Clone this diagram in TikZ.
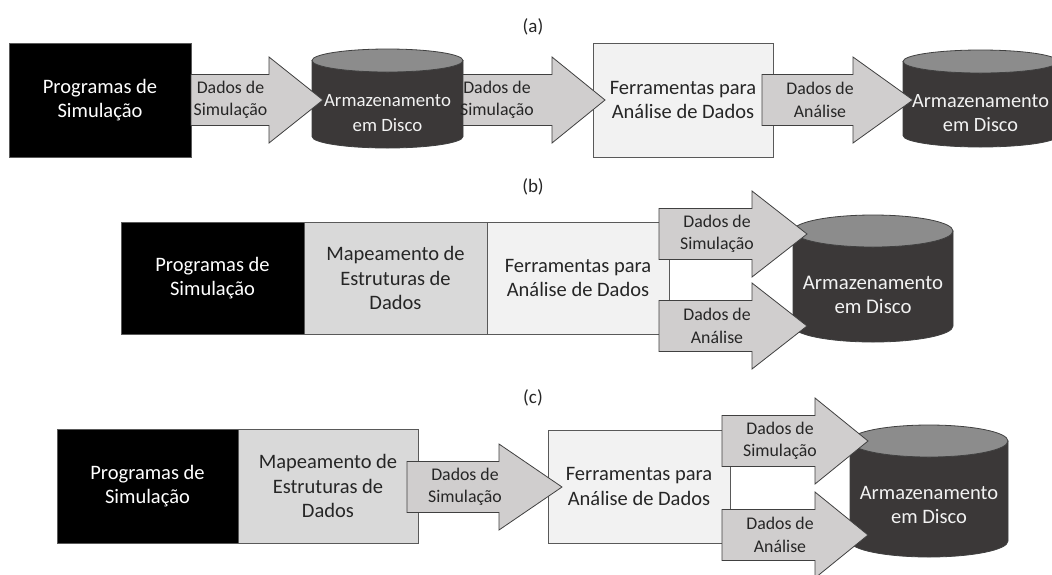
\documentclass[tikz,border=0pt]{standalone}
\usepackage{fontspec}
\setmainfont{Carlito}
\definecolor{arrowfill}{HTML}{D0CECE}
\definecolor{arrowedge}{HTML}{404040}
\definecolor{boxedge}{HTML}{595959}
\definecolor{mapfill}{HTML}{D9D9D9}
\definecolor{ferfill}{HTML}{F2F2F2}
\definecolor{cylbody}{HTML}{3B3838}
\definecolor{cyltop}{HTML}{8C8C8C}
\definecolor{txtdark}{HTML}{262626}
\definecolor{cyltxt}{HTML}{F2F2F2}
\tikzset{
  boxbase/.style={draw=boxedge, line width=0.9pt, inner sep=0pt, outer sep=0pt, align=center,
    font=\fontsize{20.5}{24.5}\selectfont},
  simbox/.style={boxbase, fill=black, text=white},
  mapbox/.style={boxbase, fill=mapfill, text=txtdark},
  ferbox/.style={boxbase, fill=ferfill, text=txtdark},
  arrowshape/.style={draw=arrowedge, fill=arrowfill, line width=0.8pt, line join=miter},
  arrowtext/.style={text=txtdark, align=center, inner sep=0pt, font=\fontsize{17.8}{22.5}\selectfont},
  cyltext/.style={text=cyltxt, align=center, inner sep=0pt},
  partlabel/.style={text=txtdark, inner sep=0pt, font=\fontsize{19}{22}\selectfont},
}
% block arrow: name, x1 (tail), xh (head base), xt (tip), yc, text x, text
\newcommand{\blockarrow}[7]{%
  \draw[arrowshape] (#2,#5-25.5) -- (#3,#5-25.5) -- (#3,#5-43) -- (#4,#5)
     -- (#3,#5+43) -- (#3,#5+25.5) -- (#2,#5+25.5) -- cycle;
  \node[arrowtext] (#1) at (#6,#5) {#7};
}
% cylinder: name, x1, x2, ytop, ybottom, ry, text y, font size, text
\newcommand{\diskcyl}[9]{%
  \pgfmathsetmacro{\cxc}{(#2+#3)/2}%
  \pgfmathsetmacro{\crx}{(#3-#2)/2}%
  \pgfmathsetmacro{\cyt}{#4+#6}%
  \pgfmathsetmacro{\cyb}{#5-#6}%
  \draw[fill=cylbody, draw=arrowedge, line width=0.8pt]
    (#2,\cyt) -- (#2,\cyb)
    .. controls (#2,\cyb+0.552*#6) and (\cxc-0.552*\crx,#5) .. (\cxc,#5)
    .. controls (\cxc+0.552*\crx,#5) and (#3,\cyb+0.552*#6) .. (#3,\cyb)
    -- (#3,\cyt) -- cycle;
  \draw[fill=cyltop, draw=arrowedge, line width=0.8pt] (\cxc,\cyt) ellipse [x radius=\crx, y radius=#6];
  \node[cyltext, font=\fontsize{#8}{24.5}\selectfont] (#1) at (\cxc,#7) {#9};
}
\begin{document}
\begin{tikzpicture}[x=1pt, y=-1pt]
\useasboundingbox (0,0) rectangle (1052,574);
\clip (0,0) rectangle (1052,574);
\fill[white] (0,0) rectangle (1052,574);

% ---------------- (a) ----------------
\node[partlabel] (la) at (533,27) {(a)};
\node[simbox, minimum width=182pt, minimum height=114pt] (a1) at (100,100) {Programas de\\Simulação};
\node[ferbox, minimum width=180pt, minimum height=114pt] (a3) at (683,100) {Ferramentas para\\Análise de Dados};
\diskcyl{a2}{312}{463}{49}{148}{11.5}{113}{18.8}{Armazenamento\\em Disco}
\diskcyl{a4}{903}{1058}{50}{147}{11.5}{113}{20.3}{Armazenamento\\em Disco}
\blockarrow{aa1}{191}{269}{323}{100}{230.5}{Dados de\\Simulação}
\blockarrow{aa2}{463}{552}{605}{100}{497}{Dados de\\Simulação}
\blockarrow{aa3}{762}{853}{913}{100}{820}{Dados de\\Análise}

% ---------------- (b) ----------------
\node[partlabel] (lb) at (533,187) {(b)};
\node[simbox, minimum width=183pt, minimum height=112pt] (b1) at (212.5,278) {Programas de\\Simulação};
\node[mapbox, minimum width=183pt, minimum height=112pt] (b2) at (395.5,278) {Mapeamento de\\Estruturas de\\Dados};
\node[ferbox, minimum width=182pt, minimum height=112pt] (b3) at (578,278) {Ferramentas para\\Análise de Dados};
\diskcyl{b4}{793}{953}{215}{342}{16}{295}{20.8}{Armazenamento\\em Disco}
\blockarrow{ba1}{659}{752}{807}{234}{717}{Dados de\\Simulação}
\blockarrow{ba2}{659}{752}{807}{326}{717}{Dados de\\Análise}

% ---------------- (c) ----------------
\node[partlabel] (lc) at (533,398) {(c)};
\node[simbox, minimum width=181pt, minimum height=114pt] (c1) at (147.5,486) {Programas de\\Simulação};
\node[mapbox, minimum width=180pt, minimum height=114pt] (c2) at (328,486) {Mapeamento de\\Estruturas de\\Dados};
\node[ferbox, minimum width=182pt, minimum height=113pt] (c3) at (639,486.5) {Ferramentas para\\Análise de Dados};
\diskcyl{c4}{850}{1008}{425}{557}{16}{505}{20.5}{Armazenamento\\em Disco}
\blockarrow{ca1}{407}{499}{562}{487}{465}{Dados de\\Simulação}
\blockarrow{ca2}{722}{815}{868}{441}{780}{Dados de\\Simulação}
\blockarrow{ca3}{722}{815}{868}{535}{780}{Dados de\\Análise}
\end{tikzpicture}
\end{document}
